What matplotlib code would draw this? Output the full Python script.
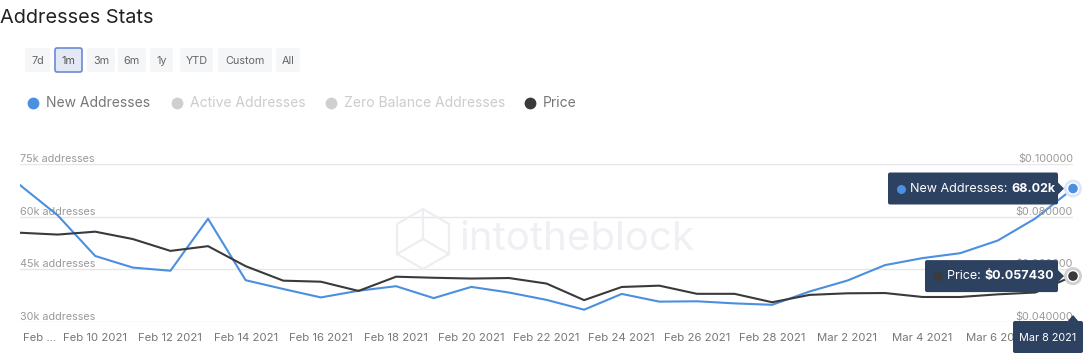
import matplotlib
matplotlib.use("Agg")
import matplotlib.pyplot as plt
import matplotlib.dates as mdates
import matplotlib.transforms as mtransforms
from matplotlib.patches import FancyBboxPatch, Polygon, Circle
import numpy as np
import pandas as pd

plt.rcParams['font.family'] = ['Inter', 'DejaVu Sans']

# ---------------- data ----------------
dates = pd.date_range("2021-02-08", "2021-03-08", freq="D")
new_addresses_k = [69.0, 60.4, 48.8, 45.5, 44.6, 59.4, 41.9, 39.4, 37.0, 38.9,
                   40.2, 36.8, 40.0, 38.4, 36.3, 33.5, 38.0, 35.8, 35.9, 35.3,
                   34.9, 38.7, 41.8, 46.2, 48.2, 49.6, 53.2, 59.5, 68.02]
price = [0.0739, 0.0732, 0.0743, 0.0715, 0.0670, 0.0688, 0.0612, 0.0557, 0.0553, 0.0518,
         0.0572, 0.0568, 0.0565, 0.0567, 0.0546, 0.0483, 0.0533, 0.0538, 0.0507, 0.0507,
         0.0475, 0.0503, 0.0509, 0.0510, 0.0495, 0.0495, 0.0505, 0.0512, 0.05743]
left_ticks = [30, 45, 60, 75]
left_tick_labels = ["30k addresses", "45k addresses", "60k addresses", "75k addresses"]
right_ticks = [0.04, 0.06, 0.08, 0.10]
right_tick_labels = ["$0.040000", "$0.060000", "$0.080000", "$0.100000"]
x_tick_dates = pd.date_range("2021-02-08", "2021-03-06", freq="2D")
x_tick_labels = ["Feb ...", "Feb 10 2021", "Feb 12 2021", "Feb 14 2021", "Feb 16 2021",
                 "Feb 18 2021", "Feb 20 2021", "Feb 22 2021", "Feb 24 2021", "Feb 26 2021",
                 "Feb 28 2021", "Mar 2 2021", "Mar 4 2021", "Mar 6 20"]
buttons = ["7d", "1m", "3m", "6m", "1y", "YTD", "Custom", "All"]
legend_names = ["New Addresses", "Active Addresses", "Zero Balance Addresses", "Price"]
last_date_label = "Mar 8 2021"

BLUE = "#4a8fe0"
DARK = "#3a3a3c"
NAVY = "#2d4160"

W, H = 1091, 358
fig = plt.figure(figsize=(W / 100, H / 100), dpi=100)
fig.patch.set_facecolor("white")

# ---------------- main chart ----------------
x0, x1, ytop, ybot = 20, 1073, 164, 322
ax = fig.add_axes([x0 / W, 1 - ybot / H, (x1 - x0) / W, (ybot - ytop) / H])
ax.set_facecolor("none")
ax.plot(dates, new_addresses_k, color=BLUE, lw=1.5, zorder=3)
ax.set_xlim(dates[0], dates[-1])
ax.set_ylim(30, 75)
ax.set_yticks(left_ticks)
ax.set_yticklabels(left_tick_labels)
ax.grid(axis="y", color="#e6e6e6", lw=1)
ax.set_axisbelow(True)
for s in ax.spines.values():
    s.set_visible(False)
ax.tick_params(axis="y", length=0, pad=0, labelsize=7.8, labelcolor="#9a9a9a")
for lab in ax.get_yticklabels():
    lab.set_horizontalalignment("left")
    lab.set_verticalalignment("bottom")
ax.set_xticks(x_tick_dates)
ax.set_xticklabels(x_tick_labels)
ax.tick_params(axis="x", length=0, pad=8, labelsize=8.2, labelcolor="#777777")
xlabs = ax.get_xticklabels()
# first (truncated) label starts at the left edge of the plot
xlabs[0].set_horizontalalignment("left")
xlabs[0].set_transform(xlabs[0].get_transform() +
                       mtransforms.ScaledTranslation(3 / 100, 0, fig.dpi_scale_trans))
# last label is partly hidden behind the date tooltip
xlabs[-1].set_horizontalalignment("left")
xlabs[-1].set_transform(xlabs[-1].get_transform() +
                        mtransforms.ScaledTranslation(-31.5 / 100, 0, fig.dpi_scale_trans))

ax2 = ax.twinx()
ax2.plot(dates, price, color=DARK, lw=1.5, zorder=2)
ax2.set_ylim(0.04, 0.10)
ax2.set_yticks(right_ticks)
ax2.set_yticklabels(right_tick_labels)
for s in ax2.spines.values():
    s.set_visible(False)
ax2.tick_params(axis="y", length=0, pad=0, labelsize=7.8, labelcolor="#9a9a9a")
for lab in ax2.get_yticklabels():
    lab.set_horizontalalignment("right")
    lab.set_verticalalignment("bottom")
ax2.set_xlim(dates[0], dates[-1])

# ---------------- overlay (pixel coordinates) ----------------
ov = fig.add_axes([0, 0, 1, 1])
ov.set_xlim(0, W)
ov.set_ylim(H, 0)
ov.axis("off")
ov.set_facecolor("none")


def to_px(axis, x, y):
    disp = axis.transData.transform((mdates.date2num(x), y))
    return ov.transData.inverted().transform(disp)


# title
ov.text(0, 18, "Addresses Stats", fontsize=14.3, color="#222222", va="center", ha="left")

# buttons
bx = [25, 55, 87, 118, 150, 180, 218, 276]
bw = [25, 27, 28, 28, 23, 33, 54, 24]
for i, (b, xx, ww) in enumerate(zip(buttons, bx, bw)):
    sel = (b == "1m")
    p = FancyBboxPatch((xx, 48), ww, 24, boxstyle="round,pad=0,rounding_size=2",
                       fc="#e3e8f5" if sel else "#f5f6f8",
                       ec="#6a8ad8" if sel else "none", lw=1.2)
    ov.add_patch(p)
    ov.text(xx + ww / 2, 61, b, fontsize=7.8, color="#555555" if sel else "#666666",
            ha="center", va="center")

# legend
leg_x = [33, 177, 331, 530]
leg_col = [BLUE, "#cfcfcf", "#cfcfcf", DARK]
leg_txt = ["#777777", "#cccccc", "#cccccc", "#777777"]
for name, lx, c, tc in zip(legend_names, leg_x, leg_col, leg_txt):
    ov.plot(lx, 103, "o", ms=8.5, color=c, mec="none")
    ov.text(lx + 13, 103, name, fontsize=10, color=tc, ha="left", va="center")

# watermark
ov.text(460, 239, "intotheblock", fontsize=29, color="#eef0f3", ha="left", va="center", zorder=0)
cx, cy, r = 423, 239, 30
hexa = [(cx + r * np.cos(np.radians(a)), cy + r * np.sin(np.radians(a))) for a in range(30, 390, 60)]
ov.add_patch(Polygon(hexa, closed=True, fill=False, ec="#eceef1", lw=1.6, zorder=0))
for a in (90, 210, 330):
    ov.plot([cx, cx + r * np.cos(np.radians(a))], [cy, cy - r * np.sin(np.radians(a))],
            color="#eceef1", lw=1.6, zorder=0)

# end markers
bxp, byp = to_px(ax, dates[-1], new_addresses_k[-1])
pxp, pyp = to_px(ax2, dates[-1], price[-1])
ov.add_patch(Circle((bxp, byp), 9, fc="#dbe7f8", ec="none", zorder=5))
ov.add_patch(Circle((bxp, byp), 5.5, fc=BLUE, ec="white", lw=1, zorder=6))
ov.add_patch(Circle((pxp, pyp), 9, fc="#d0d0d0", ec="none", zorder=5))
ov.add_patch(Circle((pxp, pyp), 5.5, fc=DARK, ec="white", lw=1, zorder=6))

# tooltip: New Addresses
tx0, tx1 = bxp - 185, bxp - 15
ty0, ty1 = byp - 16, byp + 16
ov.add_patch(FancyBboxPatch((tx0, ty0), tx1 - tx0, ty1 - ty0,
                            boxstyle="round,pad=0,rounding_size=2", fc=NAVY, ec="none", zorder=7))
ov.add_patch(Polygon([(tx1, byp - 6), (tx1 + 6, byp), (tx1, byp + 6)], fc=NAVY, ec="none", zorder=7))
ov.plot(tx0 + 13, byp, "o", ms=6.5, color=BLUE, mec="none", zorder=8)
t1 = ov.text(tx0 + 22, byp, "New Addresses: ", fontsize=9, color="white", ha="left", va="center", zorder=8)
fig.canvas.draw()
bb = t1.get_window_extent()
ex = ov.transData.inverted().transform((bb.x1, 0))[0]
ov.text(ex, byp, f"{new_addresses_k[-1]:.2f}k", fontsize=9, color="white", fontweight="bold",
        ha="left", va="center", zorder=8)

# tooltip: Price
qx0, qx1 = pxp - 148, pxp - 15
qy0, qy1 = pyp - 16, pyp + 16
ov.add_patch(FancyBboxPatch((qx0, qy0), qx1 - qx0, qy1 - qy0,
                            boxstyle="round,pad=0,rounding_size=2", fc=NAVY, ec="none", zorder=7))
ov.add_patch(Polygon([(qx1, pyp - 6), (qx1 + 6, pyp), (qx1, pyp + 6)], fc=NAVY, ec="none", zorder=7))
ov.plot(qx0 + 13, pyp, "o", ms=6.5, color="#3b3b3b", mec="none", zorder=8)
t2 = ov.text(qx0 + 22, pyp, "Price: ", fontsize=9, color="white", ha="left", va="center", zorder=8)
fig.canvas.draw()
bb = t2.get_window_extent()
ex = ov.transData.inverted().transform((bb.x1, 0))[0]
ov.text(ex, pyp, f"${price[-1]:.6f}", fontsize=9, color="white", fontweight="bold",
        ha="left", va="center", zorder=8)

# date box (Mar 8)
dx0, dx1 = bxp - 60, bxp + 10
dy0, dy1 = 321, 353
ov.add_patch(FancyBboxPatch((dx0, dy0), dx1 - dx0, dy1 - dy0,
                            boxstyle="round,pad=0,rounding_size=2", fc=NAVY, ec="none", zorder=7))
ov.add_patch(Polygon([(bxp - 6, dy0 + 1), (bxp, dy0 - 6), (bxp + 6, dy0 + 1)], fc=NAVY, ec="none", zorder=7))
ov.text((dx0 + dx1) / 2, (dy0 + dy1) / 2 + 1, last_date_label, fontsize=7.8, color="white",
        ha="center", va="center", zorder=8)

fig.savefig("out.png", dpi=100, facecolor="white")
